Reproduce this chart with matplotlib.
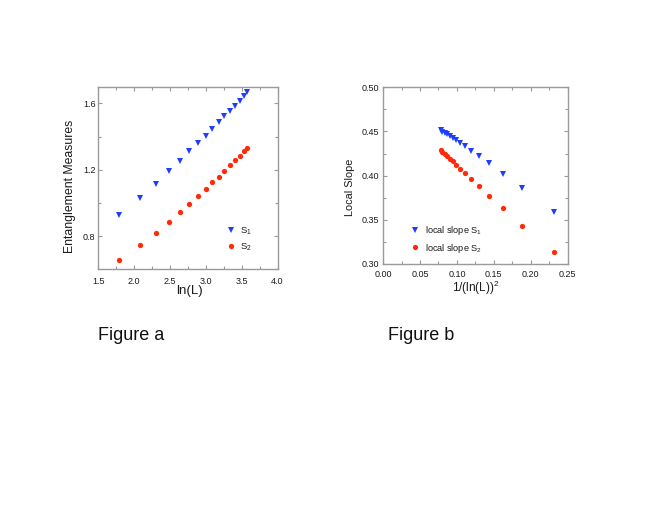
import matplotlib
matplotlib.use('Agg')
import matplotlib.pyplot as plt
from matplotlib.ticker import MultipleLocator

plt.rcParams['font.family'] = ['Liberation Sans', 'DejaVu Sans']
plt.rcParams['mathtext.fontset'] = 'custom'
plt.rcParams['mathtext.rm'] = 'Liberation Sans'
plt.rcParams['mathtext.default'] = 'regular'

# ---- data: Figure a ----
lnL = [1.79, 2.08, 2.30, 2.48, 2.64, 2.77, 2.89, 3.00, 3.09, 3.18,
       3.26, 3.33, 3.40, 3.47, 3.53, 3.58]
S1 = [0.930, 1.030, 1.116, 1.192, 1.254, 1.310, 1.360, 1.406, 1.448, 1.486,
      1.522, 1.554, 1.586, 1.614, 1.642, 1.668]
S2 = [0.654, 0.744, 0.820, 0.886, 0.944, 0.996, 1.042, 1.086, 1.124, 1.158,
      1.192, 1.226, 1.256, 1.282, 1.310, 1.332]

# ---- data: Figure b ----
inv_lnL2 = [0.231, 0.1886, 0.162, 0.1436, 0.130, 0.1197, 0.1114, 0.1047,
            0.099, 0.0942, 0.0901, 0.0864, 0.0833, 0.0804, 0.0779]
slope1 = [0.359, 0.3856, 0.402, 0.4137, 0.422, 0.4283, 0.4332, 0.437,
          0.440, 0.4426, 0.4448, 0.4467, 0.4482, 0.4497, 0.4512]
slope2 = [0.3139, 0.3432, 0.363, 0.3769, 0.3878, 0.396, 0.4024, 0.408,
          0.4122, 0.4163, 0.4193, 0.422, 0.4242, 0.4265, 0.429]

BLUE = '#1f3dff'
RED = '#ff2a0a'
SPINE = '#9a9a9a'
TXT = '#1a1a1a'

fig = plt.figure(figsize=(6.64, 5.13), dpi=100)


def style(ax, fs=6.5):
    for s in ax.spines.values():
        s.set_color(SPINE)
        s.set_linewidth(1.0)
    ax.tick_params(which='both', direction='in', top=True, right=True,
                   color=SPINE, labelcolor=TXT, labelsize=fs, width=0.8)
    ax.tick_params(which='major', length=3)
    ax.tick_params(which='minor', length=2)


# Figure a
ax1 = fig.add_axes([0.148, 0.475, 0.270, 0.356])
ax1.plot(lnL, S1, linestyle='none', marker='v', markersize=4.8,
         markeredgewidth=0, color=BLUE, label='S$_1$')
ax1.plot(lnL, S2, linestyle='none', marker='o', markersize=3.8,
         markeredgewidth=0, color=RED, label='S$_2$')
ax1.set_xlim(1.5, 4.0)
ax1.set_ylim(0.6, 1.7)
ax1.xaxis.set_major_locator(MultipleLocator(0.5))
ax1.xaxis.set_minor_locator(MultipleLocator(0.25))
ax1.yaxis.set_minor_locator(MultipleLocator(0.2))
ax1.set_yticks([0.8, 1.2, 1.6])
ax1.set_yticklabels(['0.8', '1.2', '1.6'])
style(ax1)
ax1.tick_params(axis='x', pad=5.5)
ax1.tick_params(axis='y', pad=2)
ax1.set_xlabel('ln(L)', fontsize=9.5, color=TXT, labelpad=0)
ax1.set_ylabel('Entanglement Measures', fontsize=8.8, color=TXT)
ax1.yaxis.set_label_coords(-0.122, 0.456)
ax1.xaxis.set_label_coords(0.51, -0.088)
ax1.legend(loc='center left', bbox_to_anchor=(0.67, 0.165), frameon=False,
           fontsize=6.8, handletextpad=0.2, labelspacing=0.5,
           borderpad=0, handlelength=1.6, labelcolor=TXT)

# Figure b
ax2 = fig.add_axes([0.577, 0.4854, 0.2777, 0.3446])
ax2.plot(inv_lnL2, slope1, linestyle='none', marker='v', markersize=4.8,
         markeredgewidth=0, color=BLUE, label='local slope S$_1$')
ax2.plot(inv_lnL2, slope2, linestyle='none', marker='o', markersize=3.8,
         markeredgewidth=0, color=RED, label='local slope S$_2$')
ax2.set_xlim(0.0, 0.25)
ax2.set_ylim(0.30, 0.50)
ax2.xaxis.set_major_locator(MultipleLocator(0.05))
ax2.xaxis.set_minor_locator(MultipleLocator(0.025))
ax2.yaxis.set_major_locator(MultipleLocator(0.05))
ax2.yaxis.set_minor_locator(MultipleLocator(0.025))
ax2.xaxis.set_major_formatter(plt.FormatStrFormatter('%.2f'))
ax2.yaxis.set_major_formatter(plt.FormatStrFormatter('%.2f'))
style(ax2)
ax2.tick_params(axis='x', pad=4)
ax2.tick_params(axis='y', pad=3)
ax2.set_xlabel('1/(ln(L))$^2$', fontsize=8.5, color=TXT, labelpad=0)
ax2.set_ylabel('Local Slope', fontsize=7.8, color=TXT)
ax2.yaxis.set_label_coords(-0.153, 0.436)
ax2.legend(loc='center left', bbox_to_anchor=(0.11, 0.14), frameon=False,
           fontsize=6.6, handletextpad=0.4, labelspacing=0.5,
           borderpad=0, handlelength=1.5, labelcolor=TXT)

fig.text(98 / 664, 1 - 335 / 513, 'Figure a', fontsize=13, color='#111111',
         ha='left', va='center')
fig.text(388 / 664, 1 - 335 / 513, 'Figure b', fontsize=13, color='#111111',
         ha='left', va='center')

fig.savefig('out.png', dpi=100)
